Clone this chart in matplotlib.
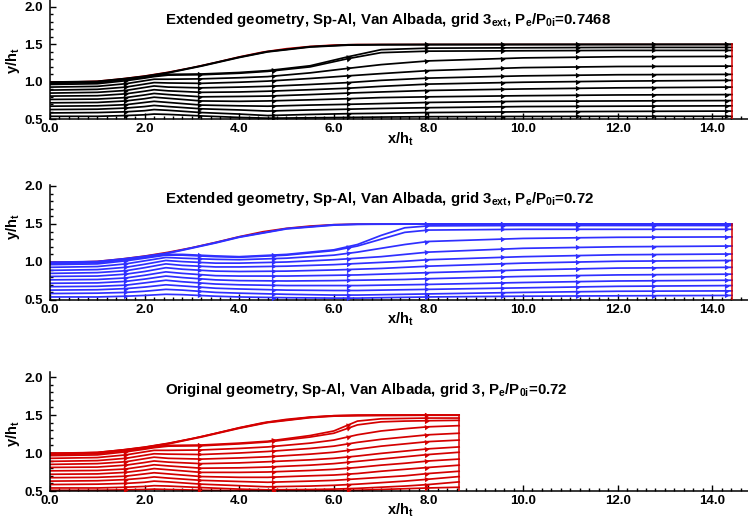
import numpy as np
import matplotlib
matplotlib.use("Agg")
import matplotlib.pyplot as plt
from matplotlib import transforms
from matplotlib.ticker import MultipleLocator, FormatStrFormatter

plt.rcParams['font.family'] = ['Liberation Sans', 'DejaVu Sans']
plt.rcParams['font.weight'] = 'bold'
plt.rcParams['mathtext.fontset'] = 'custom'
plt.rcParams['mathtext.rm'] = 'Liberation Sans:bold'
plt.rcParams['mathtext.it'] = 'Liberation Sans:bold'
plt.rcParams['mathtext.bf'] = 'Liberation Sans:bold'
plt.rcParams['mathtext.default'] = 'rm'

# ---- geometry (upper nozzle wall) ----
wall_x = [0, 0.5, 1.0, 1.5, 2.0, 2.5, 3.0, 3.5, 4.0, 4.5, 5.0, 5.5, 6.0, 6.5, 7.0]
wall_y = [1.0, 1.0, 1.01, 1.04, 1.08, 1.13, 1.19, 1.26, 1.335, 1.40, 1.445, 1.475, 1.493, 1.5, 1.5]
exit_ext = 14.42
exit_orig = 8.65

# ---- panel 1 : extended geometry, Pe/P0i = 0.7468 (black) ----
x1 = [0, 1.0, 1.6, 2.0, 2.2, 2.5, 3.2, 4.0, 4.6, 5.5, 6.3, 7.0, 8.0, 10.0, 12.0, 14.42]
lines1 = [
    [0.997, 1.007, 1.045, 1.075, 1.095, 1.125, 1.215, 1.33, 1.405, 1.47, 1.495, 1.498, 1.499, 1.5, 1.5, 1.5],
    [0.99, 1.0, 1.04, 1.07, 1.09, 1.12, 1.21, 1.325, 1.40, 1.465, 1.49, 1.495, 1.497, 1.498, 1.499, 1.5],
    [0.98, 0.99, 1.03, 1.06, 1.08, 1.10, 1.105, 1.125, 1.15, 1.215, 1.335, 1.43, 1.45, 1.455, 1.46, 1.46],
    [0.965, 0.975, 1.015, 1.05, 1.07, 1.09, 1.095, 1.115, 1.14, 1.20, 1.31, 1.39, 1.41, 1.415, 1.42, 1.42],
    [0.93, 0.94, 0.975, 1.015, 1.035, 1.035, 1.04, 1.055, 1.07, 1.12, 1.18, 1.23, 1.28, 1.32, 1.335, 1.34],
    [0.89, 0.9, 0.93, 0.97, 0.99, 0.985, 0.98, 0.995, 1.01, 1.045, 1.08, 1.11, 1.15, 1.19, 1.205, 1.21],
    [0.85, 0.86, 0.885, 0.925, 0.945, 0.93, 0.92, 0.93, 0.94, 0.965, 0.99, 1.02, 1.05, 1.08, 1.095, 1.10],
    [0.81, 0.815, 0.84, 0.875, 0.895, 0.88, 0.86, 0.865, 0.875, 0.895, 0.915, 0.94, 0.97, 0.995, 1.01, 1.02],
    [0.765, 0.77, 0.79, 0.825, 0.845, 0.83, 0.80, 0.805, 0.81, 0.83, 0.85, 0.865, 0.885, 0.905, 0.92, 0.93],
    [0.72, 0.725, 0.745, 0.775, 0.795, 0.78, 0.745, 0.74, 0.745, 0.76, 0.775, 0.79, 0.80, 0.815, 0.825, 0.83],
    [0.675, 0.68, 0.695, 0.725, 0.74, 0.725, 0.69, 0.68, 0.675, 0.69, 0.70, 0.71, 0.725, 0.74, 0.745, 0.75],
    [0.63, 0.635, 0.65, 0.67, 0.685, 0.67, 0.64, 0.625, 0.61, 0.625, 0.635, 0.645, 0.655, 0.67, 0.675, 0.68],
    [0.585, 0.59, 0.60, 0.615, 0.63, 0.62, 0.59, 0.57, 0.55, 0.565, 0.575, 0.58, 0.59, 0.60, 0.605, 0.61],
    [0.54, 0.54, 0.55, 0.56, 0.57, 0.565, 0.545, 0.525, 0.515, 0.52, 0.525, 0.53, 0.535, 0.538, 0.54, 0.54],
]

# ---- panel 2 : extended geometry, Pe/P0i = 0.72 (blue) ----
x2 = [0, 1.0, 1.6, 2.0, 2.45, 2.8, 3.5, 4.0, 5.0, 6.0, 6.5, 7.0, 7.5, 8.0, 10.0, 12.0, 14.42]
lines2 = [
    [0.997, 1.007, 1.045, 1.075, 1.115, 1.16, 1.255, 1.33, 1.44, 1.49, 1.497, 1.499, 1.5, 1.5, 1.5, 1.5, 1.5],
    [0.99, 1.0, 1.04, 1.07, 1.11, 1.155, 1.25, 1.325, 1.435, 1.485, 1.495, 1.497, 1.498, 1.499, 1.5, 1.5, 1.5],
    [0.98, 0.99, 1.03, 1.06, 1.10, 1.10, 1.08, 1.07, 1.10, 1.16, 1.23, 1.35, 1.45, 1.475, 1.48, 1.48, 1.48],
    [0.965, 0.975, 1.015, 1.05, 1.09, 1.09, 1.07, 1.062, 1.09, 1.15, 1.21, 1.30, 1.39, 1.42, 1.43, 1.43, 1.43],
    [0.93, 0.94, 0.975, 1.015, 1.06, 1.05, 1.035, 1.03, 1.05, 1.09, 1.13, 1.18, 1.23, 1.27, 1.31, 1.325, 1.33],
    [0.89, 0.9, 0.93, 0.97, 1.02, 1.005, 0.985, 0.985, 1.0, 1.03, 1.05, 1.07, 1.10, 1.13, 1.18, 1.20, 1.21],
    [0.85, 0.86, 0.885, 0.925, 0.975, 0.955, 0.935, 0.935, 0.945, 0.965, 0.98, 0.995, 1.01, 1.03, 1.07, 1.095, 1.105],
    [0.81, 0.815, 0.84, 0.875, 0.925, 0.905, 0.88, 0.875, 0.88, 0.895, 0.905, 0.915, 0.93, 0.945, 0.985, 1.01, 1.02],
    [0.765, 0.77, 0.79, 0.825, 0.87, 0.85, 0.82, 0.815, 0.815, 0.825, 0.83, 0.84, 0.85, 0.86, 0.895, 0.92, 0.93],
    [0.72, 0.725, 0.745, 0.775, 0.815, 0.795, 0.765, 0.755, 0.75, 0.755, 0.76, 0.765, 0.77, 0.78, 0.81, 0.83, 0.84],
    [0.675, 0.68, 0.695, 0.725, 0.76, 0.74, 0.71, 0.70, 0.69, 0.69, 0.69, 0.695, 0.70, 0.705, 0.73, 0.75, 0.76],
    [0.63, 0.635, 0.65, 0.67, 0.70, 0.685, 0.655, 0.645, 0.63, 0.625, 0.625, 0.63, 0.635, 0.64, 0.66, 0.68, 0.69],
    [0.585, 0.59, 0.60, 0.615, 0.64, 0.63, 0.60, 0.59, 0.575, 0.565, 0.565, 0.57, 0.575, 0.58, 0.60, 0.615, 0.62],
    [0.54, 0.54, 0.55, 0.56, 0.575, 0.57, 0.55, 0.54, 0.53, 0.525, 0.525, 0.53, 0.535, 0.54, 0.55, 0.555, 0.56],
]

# ---- panel 3 : original geometry, Pe/P0i = 0.72 (red) ----
x3 = [0, 1.0, 1.6, 2.0, 2.2, 2.5, 3.2, 4.0, 4.6, 5.5, 6.0, 6.5, 7.0, 7.5, 8.0, 8.65]
lines3 = [
    [0.997, 1.007, 1.045, 1.075, 1.095, 1.125, 1.215, 1.33, 1.405, 1.47, 1.49, 1.497, 1.5, 1.5, 1.5, 1.5],
    [0.99, 1.0, 1.04, 1.07, 1.09, 1.12, 1.21, 1.325, 1.40, 1.465, 1.485, 1.49, 1.493, 1.495, 1.497, 1.497],
    [0.98, 0.99, 1.03, 1.06, 1.08, 1.10, 1.105, 1.13, 1.155, 1.23, 1.29, 1.42, 1.45, 1.455, 1.46, 1.46],
    [0.965, 0.975, 1.015, 1.05, 1.07, 1.09, 1.095, 1.12, 1.145, 1.21, 1.26, 1.37, 1.41, 1.42, 1.425, 1.43],
    [0.93, 0.94, 0.975, 1.015, 1.035, 1.035, 1.04, 1.06, 1.08, 1.13, 1.17, 1.24, 1.29, 1.32, 1.345, 1.36],
    [0.89, 0.9, 0.93, 0.97, 0.99, 0.985, 0.98, 1.0, 1.02, 1.06, 1.09, 1.14, 1.18, 1.21, 1.24, 1.26],
    [0.85, 0.86, 0.885, 0.925, 0.945, 0.93, 0.92, 0.935, 0.95, 0.985, 1.01, 1.05, 1.09, 1.12, 1.15, 1.17],
    [0.81, 0.815, 0.84, 0.875, 0.895, 0.88, 0.86, 0.87, 0.885, 0.91, 0.93, 0.96, 0.995, 1.025, 1.055, 1.08],
    [0.765, 0.77, 0.79, 0.825, 0.845, 0.83, 0.80, 0.805, 0.815, 0.84, 0.86, 0.89, 0.92, 0.95, 0.98, 1.01],
    [0.72, 0.725, 0.745, 0.775, 0.795, 0.78, 0.745, 0.745, 0.75, 0.77, 0.785, 0.81, 0.84, 0.865, 0.895, 0.92],
    [0.675, 0.68, 0.695, 0.725, 0.74, 0.725, 0.69, 0.68, 0.68, 0.70, 0.71, 0.73, 0.76, 0.785, 0.81, 0.84],
    [0.63, 0.635, 0.65, 0.67, 0.685, 0.67, 0.64, 0.625, 0.615, 0.63, 0.64, 0.66, 0.68, 0.70, 0.73, 0.76],
    [0.585, 0.59, 0.60, 0.615, 0.63, 0.62, 0.59, 0.57, 0.555, 0.565, 0.575, 0.59, 0.61, 0.63, 0.655, 0.69],
    [0.54, 0.54, 0.55, 0.56, 0.57, 0.565, 0.545, 0.525, 0.515, 0.52, 0.525, 0.535, 0.55, 0.565, 0.585, 0.62],
    [0.51, 0.51, 0.515, 0.52, 0.525, 0.52, 0.51, 0.505, 0.505, 0.505, 0.505, 0.51, 0.52, 0.53, 0.54, 0.55],
]

# streamline arrow stations
arrow_x = [1.58, 3.15, 4.72, 6.3, 7.95, 9.55, 11.15, 12.75, 14.3]

titles = [
    r'Extended geometry, Sp-Al, Van Albada, grid 3$_{\mathrm{ext}}$, P$_{\mathrm{e}}$/P$_{\mathrm{0i}}$=0.7468',
    r'Extended geometry, Sp-Al, Van Albada, grid 3$_{\mathrm{ext}}$, P$_{\mathrm{e}}$/P$_{\mathrm{0i}}$=0.72',
    r'Original geometry, Sp-Al, Van Albada, grid 3, P$_{\mathrm{e}}$/P$_{\mathrm{0i}}$=0.72',
]

W, H = 748, 520
xpx = 47.3          # pixels per x/h_t
x0px = 50           # left spine
fig = plt.figure(figsize=(W / 100, H / 100), dpi=100)

red = '#d40000'


def make_axes(bottom_px, top_px, ytop):
    ax = fig.add_axes([x0px / W, 1 - bottom_px / H, 15.2 * xpx / W, (bottom_px - top_px) / H])
    ax.set_xlim(0, 15.2)
    ax.set_ylim(0.5, ytop)
    for s in ['top', 'right']:
        ax.spines[s].set_visible(False)
    for s in ['left', 'bottom']:
        ax.spines[s].set_linewidth(1.1)
    ax.xaxis.set_major_locator(MultipleLocator(2.0))
    ax.xaxis.set_minor_locator(MultipleLocator(0.2))
    ax.yaxis.set_major_locator(MultipleLocator(0.5))
    ax.yaxis.set_minor_locator(MultipleLocator(0.1))
    ax.xaxis.set_major_formatter(FormatStrFormatter('%.1f'))
    ax.yaxis.set_major_formatter(FormatStrFormatter('%.1f'))
    ax.tick_params(which='both', direction='in', width=1.0)
    ax.tick_params(which='major', length=4, labelsize=9.5)
    ax.tick_params(which='minor', length=2)
    ax.tick_params(axis='x', pad=3)
    ax.tick_params(axis='y', pad=5)
    return ax


def draw_panel(ax, xs, lines, color, exit_x, title, ylab_y):
    wx = wall_x + [exit_x]
    wy = wall_y + [1.5]
    ax.plot(wx, wy, color=red, lw=1.0, zorder=1)
    ypx = ax.bbox.height / (ax.get_ylim()[1] - ax.get_ylim()[0])
    for i, ys in enumerate(lines):
        ax.plot(xs, ys, color=color, lw=1.25, zorder=2)
        for xa in arrow_x:
            if xa >= exit_x - 0.05:
                continue
            if i < 2 and xa < 7.5:
                continue
            ya = np.interp(xa, xs, ys)
            slope = (np.interp(xa + 0.05, xs, ys) - np.interp(xa - 0.05, xs, ys)) / 0.1
            ang = np.degrees(np.arctan2(slope * ypx, xpx))
            ax.plot(xa, ya, marker=(3, 0, ang - 90), ms=4.5, color=color, mew=0, zorder=3)
    ax.plot([exit_x, exit_x], [0.5, 1.5], color=red, lw=1.1, zorder=4)
    ax.text(2.43, 1.77, title, fontsize=10.8, fontweight='bold', ha='left', va='baseline')
    ax.set_xlabel(r'x/h$_{\mathrm{t}}$', fontsize=10.5, fontweight='bold')
    ax.xaxis.set_label_coords(350 / (15.2 * xpx), -11 / (ax.bbox.height))
    ax.set_ylabel(r'y/h$_{\mathrm{t}}$', fontsize=10.5, fontweight='bold')
    tr = transforms.blended_transform_factory(ax.transAxes, ax.transData)
    ax.yaxis.set_label_coords(-28 / (15.2 * xpx), ylab_y, transform=tr)


ax1 = make_axes(119.3, 0, 2.093)
draw_panel(ax1, x1, lines1, 'black', exit_ext, titles[0], 1.28)

ax2 = make_axes(300, 185, 2.013)
draw_panel(ax2, x2, lines2, '#2f2fff', exit_ext, titles[1], 1.46)

ax3 = make_axes(491, 372, 2.066)
draw_panel(ax3, x3, lines3, red, exit_orig, titles[2], 1.26)

fig.savefig('out.png', dpi=100)
